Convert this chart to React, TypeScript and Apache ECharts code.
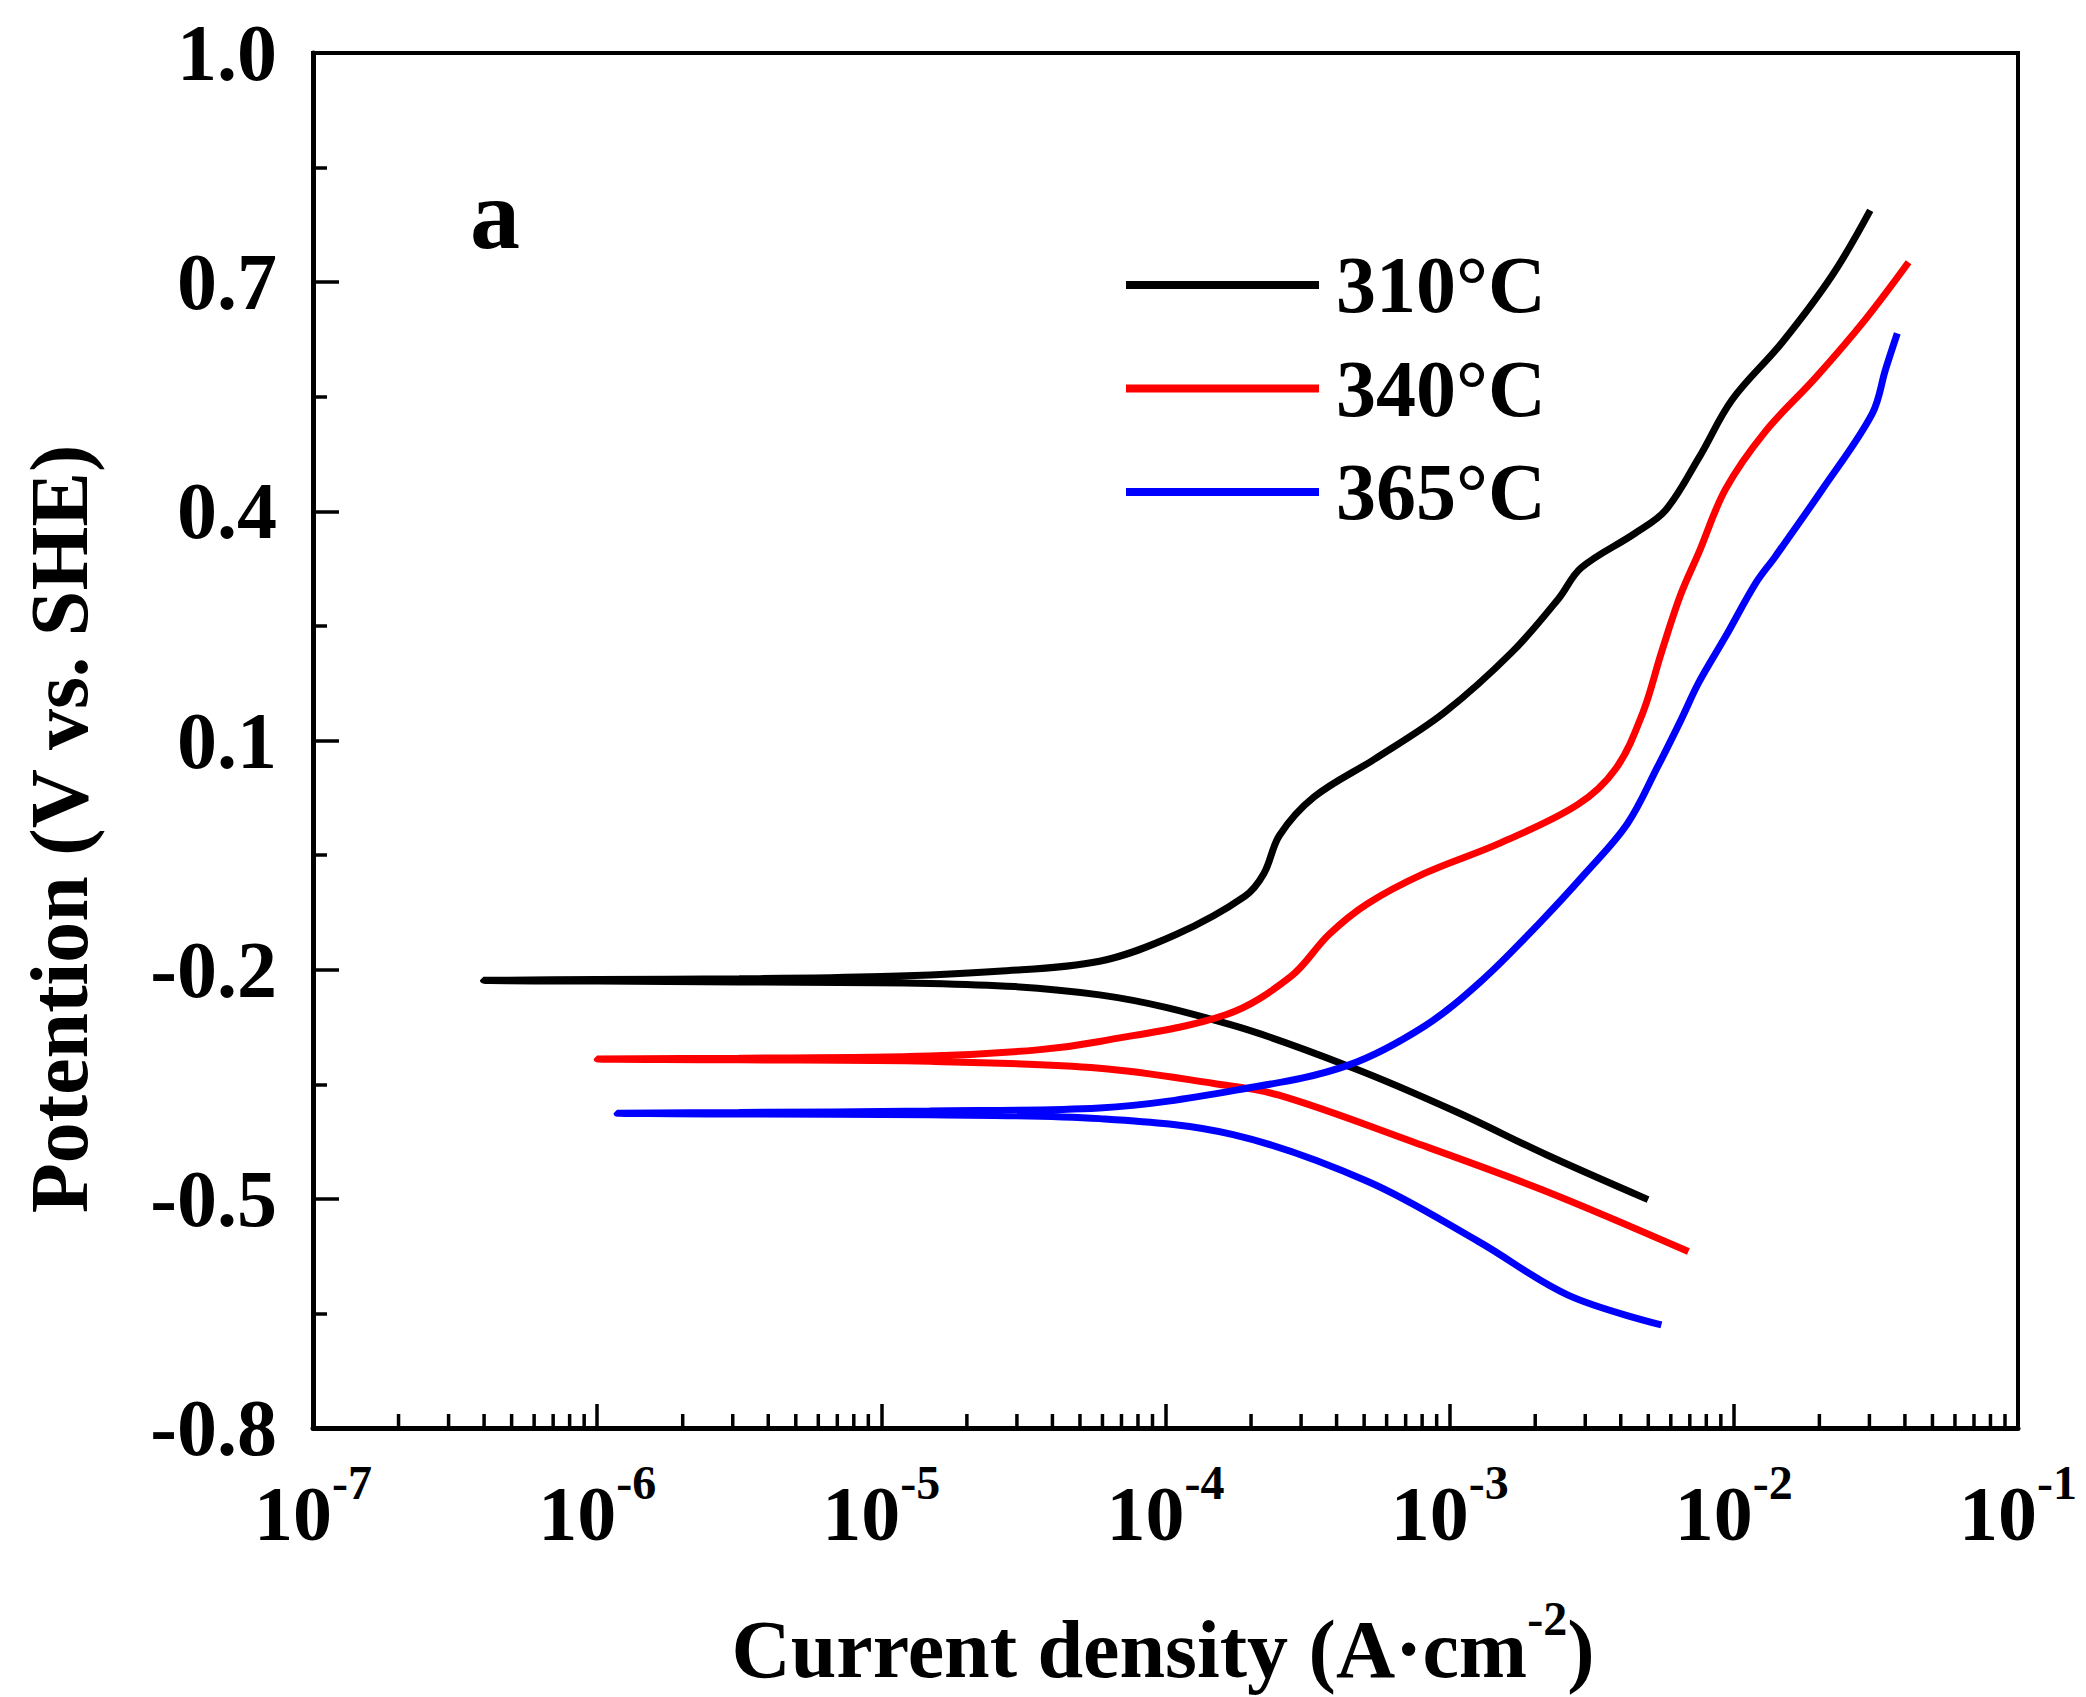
import React, { useEffect, useRef } from 'react';
import * as echarts from 'echarts';

// Current density (A/cm2), potential (V vs. SHE); each sweep runs from the cathodic end,
// through the corrosion potential, to the anodic end.
const curve310: [number, number][] = [
  [4.99e-3, -0.501], [2.18e-3, -0.442], [1.054e-3, -0.386], [4.6e-4, -0.329], [1.73e-4, -0.273],
  [5.86e-5, -0.233], [1.48e-5, -0.218], [3.16e-6, -0.216], [1.0e-6, -0.215], [3.98e-7, -0.214],
  [1.0e-6, -0.213], [3.16e-6, -0.212], [1.0e-5, -0.209], [2.57e-5, -0.202], [5.86e-5, -0.189],
  [1.089e-4, -0.154], [1.9e-4, -0.104], [2.22e-4, -0.074], [2.52e-4, -0.024], [3.33e-4, 0.026],
  [5.46e-4, 0.076], [9.53e-4, 0.136], [1.66e-3, 0.216], [2.42e-3, 0.286], [2.9e-3, 0.326],
  [4.48e-3, 0.371], [5.74e-3, 0.401], [7.53e-3, 0.47], [9.86e-3, 0.546], [1.479e-2, 0.621],
  [2.22e-2, 0.709], [3.02e-2, 0.794],
];

const curve340: [number, number][] = [
  [6.92e-3, -0.569], [2.18e-3, -0.49], [7.36e-4, -0.425], [2.49e-4, -0.364], [1.48e-4, -0.349],
  [5.86e-5, -0.329], [1.48e-5, -0.32], [3.16e-6, -0.318], [1.0e-6, -0.317],
  [3.16e-6, -0.316], [1.48e-5, -0.313], [3.55e-5, -0.305], [5.86e-5, -0.294], [1.63e-4, -0.259],
  [2.76e-4, -0.209], [3.76e-4, -0.154], [5.12e-4, -0.114], [8.15e-4, -0.074], [1.51e-3, -0.034],
  [2.82e-3, 0.016], [3.84e-3, 0.063], [4.78e-3, 0.136], [5.57e-3, 0.216], [6.5e-3, 0.291],
  [7.53e-3, 0.346], [9.35e-3, 0.429], [1.294e-2, 0.505], [1.94e-2, 0.575], [2.9e-2, 0.651],
  [4.12e-2, 0.726],
];

const curve365: [number, number][] = [
  [5.56e-3, -0.665], [2.61e-3, -0.626], [1.265e-3, -0.556], [5.13e-4, -0.477], [1.73e-4, -0.416],
  [5.86e-5, -0.395], [1.48e-5, -0.39], [3.16e-6, -0.389], [1.175e-6, -0.388],
  [3.16e-6, -0.387], [1.48e-5, -0.385], [5.86e-5, -0.381], [2.02e-4, -0.354], [4.4e-4, -0.325],
  [8.15e-4, -0.274], [1.3e-3, -0.214], [2.07e-3, -0.139], [3.0e-3, -0.074], [4.22e-3, -0.009],
  [5.4e-3, 0.066], [6.5e-3, 0.126], [7.53e-3, 0.176], [9.35e-3, 0.236], [1.194e-2, 0.306],
  [1.4e-2, 0.341], [2.05e-2, 0.429], [3.07e-2, 0.528], [3.42e-2, 0.586], [3.76e-2, 0.633],
];

const seriesNames = ['310°C', '340°C', '365°C'];
const seriesColors = ['#000000', '#ff0000', '#0000ff'];
const seriesData = [curve310, curve340, curve365];

const xMin = 1e-7;
const xMax = 1e-1;
const yMin = -0.8;
const yMax = 1.0;
const yInterval = 0.3;
const minorDecades = [1e-7, 1e-6, 1e-5, 1e-4, 1e-3, 1e-2];
const minorSteps = [2, 3, 4, 5, 6, 7, 8, 9];

const FONT = "'Liberation Serif', 'Times New Roman', serif";

export default function App() {
  const ref = useRef<HTMLDivElement>(null);

  useEffect(() => {
    if (!ref.current) return;
    const chart = echarts.init(ref.current, undefined, { renderer: 'svg' });

    const minorTicks: [number, number][] = [];
    minorDecades.forEach((d) => minorSteps.forEach((k) => minorTicks.push([k * d, yMin])));

    const lineSeries = seriesNames.map((name, i) => ({
      name,
      type: 'line',
      data: seriesData[i],
      showSymbol: false,
      symbol: 'none',
      smooth: 0.35,
      color: seriesColors[i],
      lineStyle: { color: seriesColors[i], width: 7 },
      itemStyle: { color: seriesColors[i] },
      z: 3,
    }));

    const option: any = {
      animation: false,
      backgroundColor: '#ffffff',
      grid: {
        left: 313,
        right: 68,
        top: 53,
        bottom: 269,
        show: true,
        borderColor: '#000',
        borderWidth: 4,
        backgroundColor: 'transparent',
      },
      legend: {
        data: seriesNames,
        orient: 'vertical',
        left: 1121,
        top: 240,
        itemWidth: 193,
        itemHeight: 8,
        itemGap: 23.5,
        icon: 'rect',
        textStyle: {
          fontFamily: FONT,
          fontWeight: 'bold',
          fontSize: 80,
          lineHeight: 80,
          color: '#000',
          padding: [0, 0, 0, 12],
        },
      },
      xAxis: {
        type: 'log',
        logBase: 10,
        min: xMin,
        max: xMax,
        axisLine: { show: true, onZero: false, lineStyle: { color: '#000', width: 5 } },
        axisTick: { show: true, inside: true, length: 24, lineStyle: { color: '#000', width: 3.5 } },
        minorTick: { show: false },
        splitLine: { show: false },
        axisLabel: {
          margin: 30,
          formatter: (v: number) => `{b|10}{s|${Math.round(Math.log10(v))}}`,
          rich: {
            b: { fontFamily: FONT, fontWeight: 'bold', fontSize: 78, lineHeight: 110, color: '#000' },
            s: { fontFamily: FONT, fontWeight: 'bold', fontSize: 48, lineHeight: 36, verticalAlign: 'top', color: '#000' },
          },
        },
      },
      yAxis: {
        type: 'value',
        min: yMin,
        max: yMax,
        interval: yInterval,
        axisLine: { show: true, onZero: false, lineStyle: { color: '#000', width: 5 } },
        axisTick: { show: true, inside: true, length: 26, lineStyle: { color: '#000', width: 3.5 } },
        minorTick: { show: true, splitNumber: 2, length: 14, lineStyle: { color: '#000', width: 3.5 } },
        splitLine: { show: false },
        axisLabel: {
          margin: 36,
          fontFamily: FONT,
          fontWeight: 'bold',
          fontSize: 80,
          color: '#000',
          formatter: (v: number) => v.toFixed(1),
        },
      },
      series: [
        ...lineSeries,
        {
          type: 'custom',
          name: 'minorTicks',
          silent: true,
          data: minorTicks,
          z: 5,
          renderItem: (_params: any, api: any) => {
            const p = api.coord([api.value(0), api.value(1)]);
            return {
              type: 'line',
              shape: { x1: p[0], y1: p[1], x2: p[0], y2: p[1] - 14 },
              style: { stroke: '#000', lineWidth: 3.5 },
            };
          },
        },
      ],
      graphic: [
        {
          type: 'text',
          x: 470,
          y: 214,
          style: {
            text: 'a',
            font: `bold 100px ${FONT}`,
            fill: '#000',
            align: 'left',
            verticalAlign: 'middle',
          },
        },
        {
          type: 'text',
          x: 59,
          y: 829,
          rotation: Math.PI / 2,
          style: {
            text: 'Potention (V vs. SHE)',
            font: `bold 82px ${FONT}`,
            fill: '#000',
            align: 'center',
            verticalAlign: 'middle',
          },
        },
        {
          type: 'text',
          x: 1163,
          y: 1649,
          style: {
            text: '{m|Current density (A·cm}{s|-2}{m|)}',
            align: 'center',
            verticalAlign: 'middle',
            rich: {
              m: { fontFamily: FONT, fontWeight: 'bold', fontSize: 82, lineHeight: 110, fill: '#000', color: '#000' },
              s: { fontFamily: FONT, fontWeight: 'bold', fontSize: 48, lineHeight: 36, verticalAlign: 'top', fill: '#000', color: '#000' },
            },
          },
        },
      ],
    };

    chart.setOption(option);
    return () => chart.dispose();
  }, []);

  return (
    <div
      ref={ref}
      style={{ position: 'absolute', left: 0, top: 0, width: 2086, height: 1697, background: '#fff' }}
    />
  );
}
